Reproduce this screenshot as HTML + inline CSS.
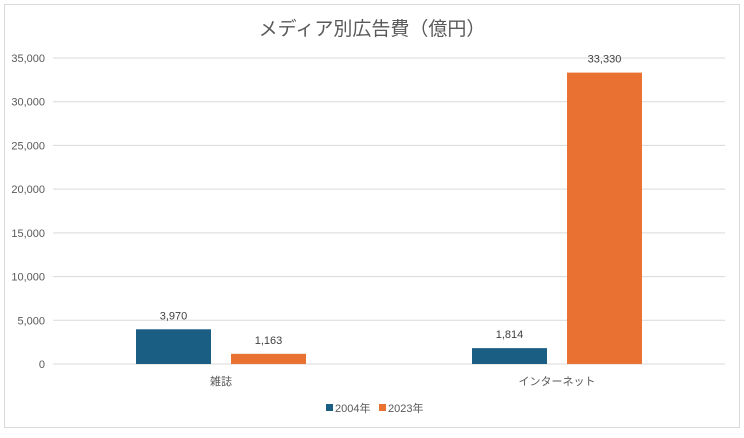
<!DOCTYPE html>
<html><head><meta charset="utf-8"><style>
body{margin:0;background:#fff;width:744px;height:433px;overflow:hidden;font-family:"Liberation Sans","Noto Sans CJK JP",sans-serif}
</style></head><body>
<svg id="c" width="744" height="433" xmlns="http://www.w3.org/2000/svg">
<rect x="4.5" y="4.5" width="735" height="423" fill="#fff" stroke="#d9d9d9"/>
<text x="372" y="35" text-anchor="middle" font-size="19" fill="#595959">メディア別広告費（億円）</text>
<g id="grid"></g><g id="bars"></g>
<g>
<rect x="326" y="404" width="7" height="7" fill="#1a5e84"/>
<text x="335" y="412" font-size="11" fill="#595959">2004年</text>
<rect x="379" y="404" width="7" height="7" fill="#e97132"/>
<text x="388" y="412" font-size="11" fill="#595959">2023年</text>
</g>
</svg>
<script>
const categories=["雑誌","インターネット"];
const series2004=[3970,1814];
const series2023=[1163,33330];
const tickValues=[0,5000,10000,15000,20000,25000,30000,35000];
const NS="http://www.w3.org/2000/svg";
const y0=364,yTop=58,yMax=35000,xL=53,xR=725;
const y=v=>y0-(v/yMax)*(y0-yTop);
const catW=(xR-xL)/categories.length;
const cx=i=>xL+catW*(i+0.5);
const fmt=v=>v.toLocaleString("en-US");
function mk(tag,attrs,parent){const e=document.createElementNS(NS,tag);for(const k in attrs)e.setAttribute(k,attrs[k]);parent.appendChild(e);return e;}
const grid=document.getElementById("grid"),bars=document.getElementById("bars");
tickValues.forEach(t=>{
 const l=mk("line",{x1:xL,x2:xR,y1:y(t),y2:y(t),stroke:"#d9d9d9","stroke-width":1},grid);
 
 
 const tx=mk("text",{x:45,y:y(t)+4,"text-anchor":"end","font-size":11,fill:"#595959"},grid);
 tx.textContent=fmt(t);
 
 
});
const bw=75,gap=20;
const seriesList=[[series2004,"#1a5e84","2004"],[series2023,"#e97132","2023"]];
categories.forEach((c,i)=>{
 seriesList.forEach(([s,col,nm],j)=>{
  const x=cx(i)-gap/2-bw+j*(bw+gap);
  const r=mk("rect",{x:x,y:y(s[i]),width:bw,height:y0-y(s[i]),fill:col},bars);
  
  
  const t=mk("text",{x:x+bw/2,y:y(s[i])-10,"text-anchor":"middle","font-size":11,fill:"#404040"},bars);
  t.textContent=fmt(s[i]);
  
  
 });
 const ct=mk("text",{x:cx(i),y:385,"text-anchor":"middle","font-size":11,fill:"#595959"},bars);
 ct.textContent=c;
 
 
});
</script>
</body></html>
